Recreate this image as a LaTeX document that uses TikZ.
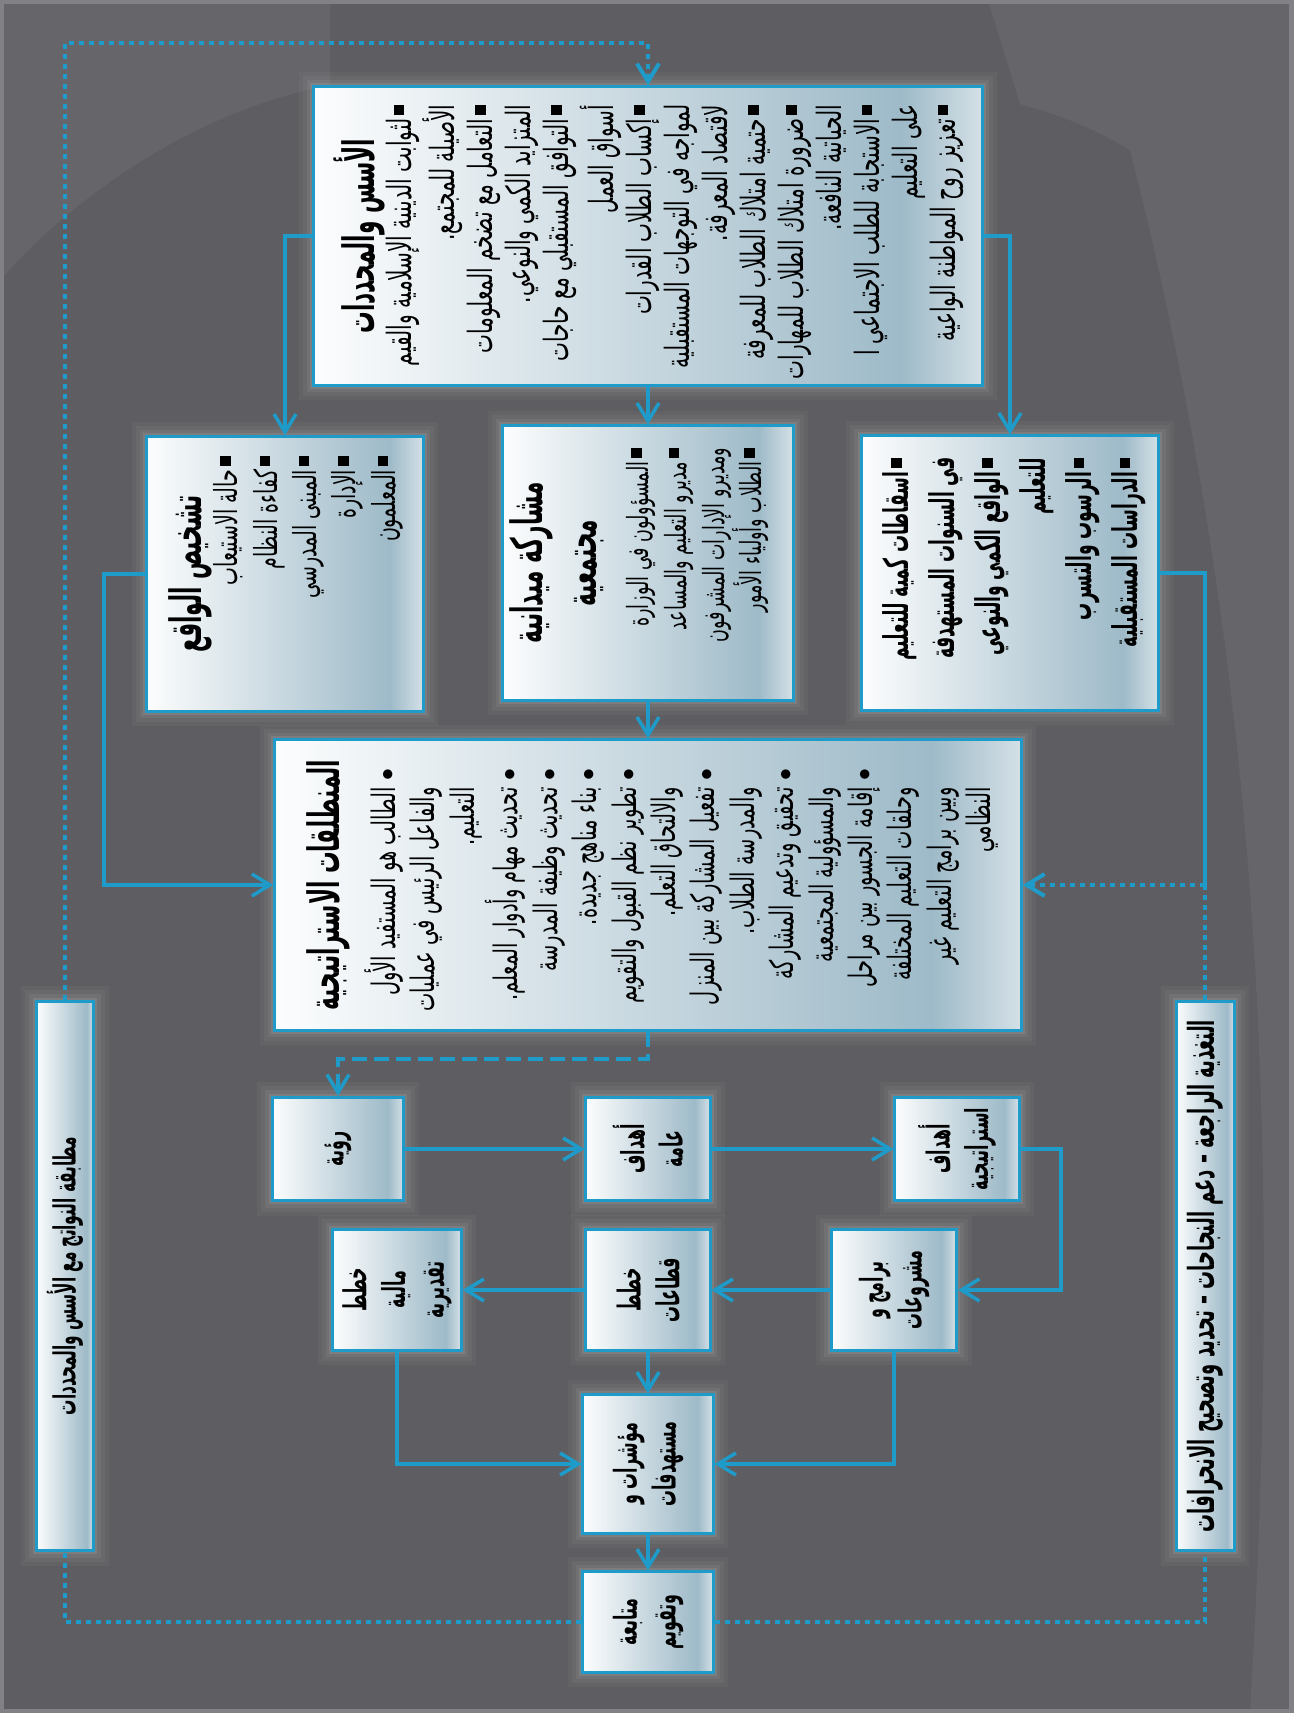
\documentclass[tikz,border=0pt]{standalone}
\usepackage{fontspec}
\newfontfamily\arabicfont[Script=Arabic,FakeStretch=0.6]{DejaVu Sans}
\newfontfamily\arabichead[Script=Arabic,FakeStretch=0.5]{DejaVu Sans}
\TeXXeTstate=1
\usetikzlibrary{arrows.meta,positioning,calc}

\definecolor{bgdark}{RGB}{94,94,98}
\definecolor{bglight}{RGB}{102,102,106}
\definecolor{bgedge}{RGB}{130,130,134}
\definecolor{lineblue}{RGB}{30,155,200}
\definecolor{boxblue}{RGB}{158,186,200}
\definecolor{boxedge}{RGB}{212,224,230}
\colorlet{boxwhite}{white!97!boxblue}
\pgfdeclareverticalshading{boxshade}{100bp}{color(0bp)=(boxedge); color(25bp)=(boxedge); color(31bp)=(boxblue); color(75bp)=(boxwhite); color(100bp)=(boxwhite)}

\newcommand{\rl}[1]{\beginR #1\endR}
\newcommand{\sq}{\rule[2pt]{3pt}{3pt}\hspace{1pt}}
\newcommand{\dt}{\makebox[7pt][r]{\normalfont\textbullet}}
\newcommand{\nodt}{\makebox[7pt]{}}

\begin{document}
\begin{tikzpicture}[x=0.01cm,y=-0.01cm,>={Straight Barb[length=1.8mm,width=2.2mm]},
box/.style={rotate=90,draw=lineblue,line width=0.03cm,shade,shading=boxshade,shading angle=90,inner sep=2pt,
  preaction={draw=white,draw opacity=0.03,line width=0.30cm},
  preaction={draw=white,draw opacity=0.04,line width=0.22cm},
  preaction={draw=white,draw opacity=0.06,line width=0.14cm},
  preaction={draw=white,draw opacity=0.09,line width=0.07cm}},
sbox/.style={box,align=center,font=\arabichead\bfseries\fontsize{9}{11}\selectfont},
ttl/.style={rotate=90,inner sep=0pt,align=center,font=\arabichead\bfseries\fontsize{12.3}{15.5}\selectfont},
txt/.style={rotate=90,inner sep=0pt,align=right,font=\arabicfont\fontsize{9.5}{10.8}\selectfont},
conn/.style={draw=lineblue,line width=0.035cm},
dotline/.style={draw=lineblue,line width=0.04cm,dash pattern=on 0.05cm off 0.05cm},
dashline/.style={draw=lineblue,line width=0.035cm,dash pattern=on 0.15cm off 0.07cm}]
\useasboundingbox (0,0) rectangle (1293,1713);
% background
\fill[bgdark] (0,0) rectangle (1293,1713);
\fill[bglight] (988,0) -- (1293,0) -- (1293,1713) -- (1250,1713) .. controls (1280,1200) and (1270,700) .. (1130,150) .. controls (1080,120) and (1040,110) .. (1020,104) -- cycle;
\fill[bglight] (0,0) -- (330,0) -- (330,85) .. controls (200,110) and (80,190) .. (0,280) -- cycle;
\draw[bgedge,line width=0.08cm] (0,0) rectangle (1293,1713);

% boxes
\node[box,minimum width=2.98cm,minimum height=6.68cm] (asas) at (648,236) {};
\node[box,minimum width=2.74cm,minimum height=2.76cm] (tashkhis) at (285,574) {};
\node[box,minimum width=2.74cm,minimum height=2.90cm] (musharaka) at (648,563) {};
\node[box,minimum width=2.74cm,minimum height=2.97cm] (isqatat) at (1010,573) {};
\node[box,minimum width=2.90cm,minimum height=7.46cm] (muntalaqat) at (648,885) {};
\node[sbox,minimum width=5.49cm,minimum height=0.57cm,font=\arabichead\bfseries\fontsize{8.7}{11}\selectfont] (mutabaqa) at (65,1276) {\rl{مطابقة النواتج مع الأسس والمحددات}};
\node[sbox,minimum width=5.49cm,minimum height=0.58cm,font=\arabichead\bfseries\fontsize{10.2}{11}\selectfont] (taghdhiya) at (1205,1276) {\rl{التغذية الراجعة – دعم النجاحات – تحديد وتصحيح الانحرافات}};

\node[sbox,minimum width=1.03cm,minimum height=1.31cm] (ruya) at (338,1149) {\rl{رؤية}};
\node[sbox,minimum width=1.03cm,minimum height=1.24cm] (ahdafA) at (648,1149) {\rl{أهداف}\\ \rl{عامة}};
\node[sbox,minimum width=1.03cm,minimum height=1.24cm] (ahdafS) at (957,1149) {\rl{أهداف}\\ \rl{استراتيجية}};
\node[sbox,minimum width=1.20cm,minimum height=1.28cm] (khittatM) at (397,1290) {\rl{خطط}\\ \rl{مالية}\\ \rl{تقديرية}};
\node[sbox,minimum width=1.20cm,minimum height=1.24cm] (khittatQ) at (648,1290) {\rl{خطط}\\ \rl{قطاعات}};
\node[sbox,minimum width=1.20cm,minimum height=1.25cm] (baramij) at (894,1290) {\rl{برامج و}\\ \rl{مشروعات}};
\node[sbox,minimum width=1.38cm,minimum height=1.30cm] (muashirat) at (648,1464) {\rl{مؤشرات و}\\ \rl{مستهدفات}};
\node[sbox,minimum width=1.00cm,minimum height=1.30cm] (mutabaa) at (648,1622) {\rl{متابعة}\\ \rl{وتقويم}};

% texts of the large boxes
\node[ttl] (asasT) at (359,236) {\rl{الأسس والمحددات}};
\node[txt,anchor=north east] (asasB) at (385,104) {\rl{\sq لثوابت الدينية الإسلامية والقيم}\\
\rl{الأصيلة للمجتمع.}\\
\rl{\sq التعامل مع تضخم المعلومات}\\
\rl{المتزايد الكمي والنوعي.}\\
\rl{\sq التوافق المستقبلي مع حاجات}\\
\rl{أسواق العمل}\\
\rl{\sq إكساب الطلاب القدرات}\\
\rl{لمواجه في التوجهات المستقبلية}\\
\rl{لاقتصاد المعرفة.}\\
\rl{\sq حتمية امتلاك الطلاب للمعرفة}\\
\rl{\sq ضرورة امتلاك الطلاب للمهارات}\\
\rl{الحياتية النافعة.}\\
\rl{\sq الاستجابة للطلب الاجتماعي ا}\\
\rl{على التعليم}\\
\rl{\sq تعزيز روح المواطنة الواعية}};

\node[ttl] (tashkhisT) at (190,574) {\rl{تشخيص الواقع}};
\node[txt,anchor=north east,font=\arabicfont\fontsize{9}{11.2}\selectfont] (tashkhisB) at (213,455) {\rl{\sq حالة الاستيعاب}\\
\rl{\sq كفاءة النظام}\\
\rl{\sq المبنى المدرسي}\\
\rl{\sq الإدارة}\\
\rl{\sq المعلمون}};

\node[ttl] (musharakaT) at (557,563) {\rl{مشاركة ميدانية}\\ \rl{مجتمعية}};
\node[txt,anchor=north east,font=\arabicfont\fontsize{8.3}{10.7}\selectfont] (musharakaB) at (626,447) {\rl{\sq المسؤولون في الوزارة}\\
\rl{\sq مديرو التعليم والمساعد}\\
\rl{ومديرو الإدارات المشرفون}\\
\rl{\sq الطلاب وأولياء الأمور}};

\node[txt,anchor=north east,font=\arabichead\bfseries\fontsize{9.7}{13}\selectfont] (isqatatB) at (882,457) {\rl{\sq اسقاطات كمية للتعليم}\\
\rl{في السنوات المستهدفة}\\
\rl{\sq الواقع الكمي والنوعي}\\
\rl{للتعليم}\\
\rl{\sq الرسوب والتسرب}\\
\rl{\sq الدراسات المستقبلية}};

\node[ttl] (muntalaqatT) at (328,885) {\rl{المنطلقات الاستراتيجية}};
\node[txt,anchor=north east,font=\arabicfont\fontsize{9.2}{11.2}\selectfont] (muntalaqatB) at (364,762) {\rl{\dt الطالب هو المستفيد الأول}\\
\rl{\nodt والفاعل الرئيس في عمليات}\\
\rl{\nodt التعليم.}\\
\rl{\dt تحديث مهام وأدوار المعلم.}\\
\rl{\dt تحديث وظيفة المدرسة}\\
\rl{\dt بناء مناهج جديدة.}\\
\rl{\dt تطوير نظم القبول والتقويم}\\
\rl{\nodt والالتحاق التعلم.}\\
\rl{\dt تفعيل المشاركة بين المنزل}\\
\rl{\nodt والمدرسة الطلاب.}\\
\rl{\dt تحقيق وتدعيم المشاركة}\\
\rl{\nodt والمسؤولية المجتمعية}\\
\rl{\dt إقامة الجسور بين مراحل}\\
\rl{\nodt وحلقات التعليم المختلفة}\\
\rl{\nodt وبين برامج التعليم غير}\\
\rl{\nodt النظامي}};

% bends
\coordinate (lbend) at (104,574);
\coordinate (rbend) at (1205,573);
\coordinate (rjoin) at (1205,885);
\coordinate (dbend) at (648,1059);
\coordinate (sbend) at (1061,1149);
\coordinate (tbend) at (65,43);

% connectors
\draw[conn,->] (asas) -| (tashkhis);
\draw[conn,->] (asas) -- (musharaka);
\draw[conn,->] (asas) -| (isqatat);
\draw[conn,->] (musharaka) -- (muntalaqat);
\draw[conn,->] (tashkhis) -- (lbend) |- (muntalaqat);
\draw[conn] (isqatat) -- (rbend) -- (rjoin);
\draw[dotline] (taghdhiya) -- (rjoin);
\draw[dotline,->] (rjoin) -- (muntalaqat);
\draw[dashline,->] (muntalaqat) -- (dbend) -| (ruya);
\draw[conn,->] (ruya) -- (ahdafA);
\draw[conn,->] (ahdafA) -- (ahdafS);
\draw[conn,->] (ahdafS) -- (sbend) |- (baramij);
\draw[conn,->] (baramij) -- (khittatQ);
\draw[conn,->] (khittatQ) -- (khittatM);
\draw[conn,->] (khittatQ) -- (muashirat);
\draw[conn,->] (khittatM) |- (muashirat);
\draw[conn,->] (baramij) |- (muashirat);
\draw[conn,->] (muashirat) -- (mutabaa);
\draw[dotline] (mutabaa) -| (mutabaqa);
\draw[dotline] (mutabaa) -| (taghdhiya);
\draw[dotline,->] (mutabaqa) -- (tbend) -| (asas);
\end{tikzpicture}
\end{document}
